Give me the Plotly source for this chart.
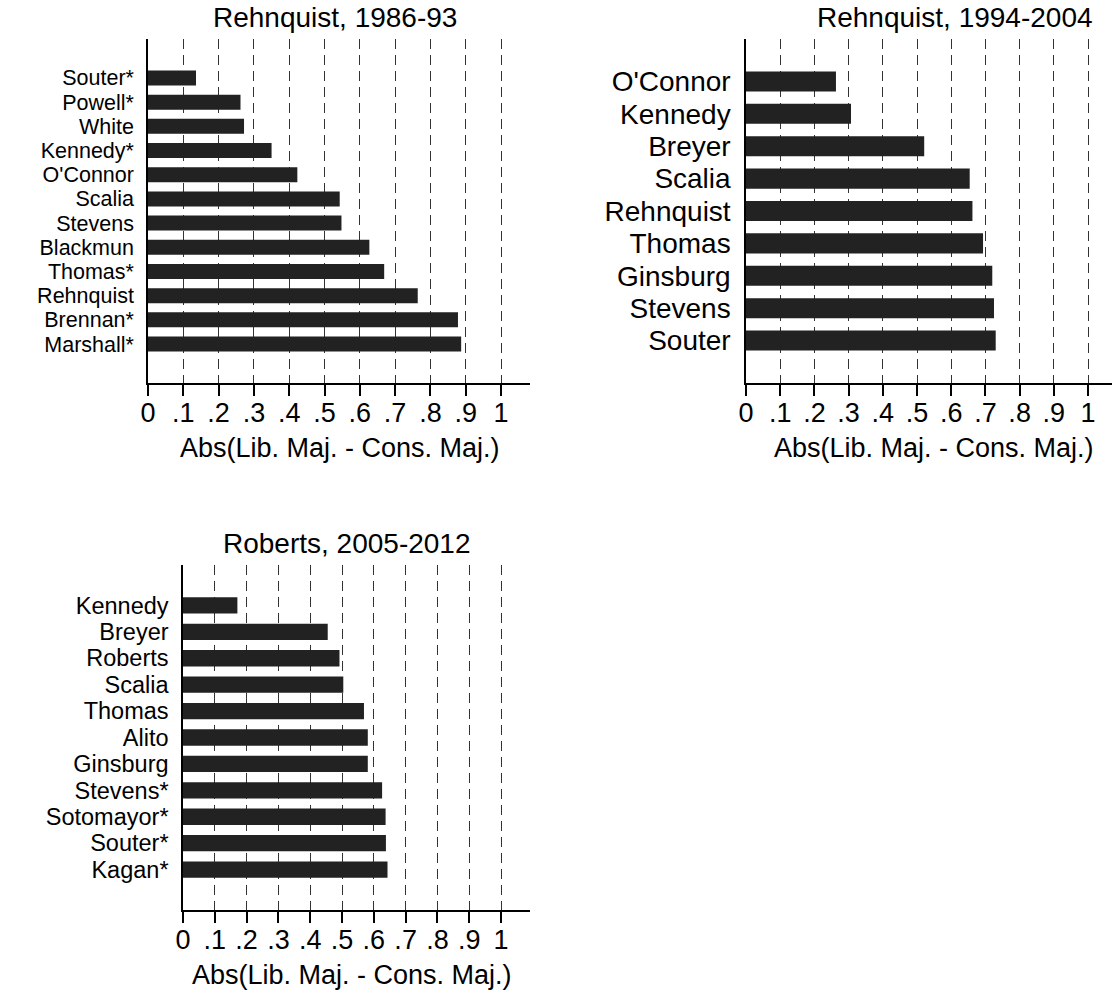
import plotly.graph_objects as go

# ---------------- data ----------------
p1_title = "Rehnquist, 1986-93"
p1_names = ["Souter*", "Powell*", "White", "Kennedy*", "O'Connor", "Scalia",
            "Stevens", "Blackmun", "Thomas*", "Rehnquist", "Brennan*", "Marshall*"]
p1_values = [0.136, 0.262, 0.272, 0.350, 0.423, 0.543,
             0.548, 0.627, 0.669, 0.764, 0.878, 0.887]

p2_title = "Rehnquist, 1994-2004"
p2_names = ["O'Connor", "Kennedy", "Breyer", "Scalia", "Rehnquist",
            "Thomas", "Ginsburg", "Stevens", "Souter"]
p2_values = [0.263, 0.307, 0.521, 0.654, 0.662, 0.693, 0.720, 0.725, 0.730]

p3_title = "Roberts, 2005-2012"
p3_names = ["Kennedy", "Breyer", "Roberts", "Scalia", "Thomas", "Alito",
            "Ginsburg", "Stevens*", "Sotomayor*", "Souter*", "Kagan*"]
p3_values = [0.171, 0.455, 0.492, 0.504, 0.569, 0.581,
             0.581, 0.626, 0.637, 0.638, 0.643]

x_tickvals = [0, 0.1, 0.2, 0.3, 0.4, 0.5, 0.6, 0.7, 0.8, 0.9, 1.0]
x_ticktext = ["0", ".1", ".2", ".3", ".4", ".5", ".6", ".7", ".8", ".9", "1"]
x_title = "Abs(Lib. Maj. - Cons. Maj.)"

# ---------------- layout geometry (pixels) ----------------
W, H = 1112, 990
FONT = "Liberation Sans, Arial, Helvetica, sans-serif"
BAR = "#222222"

panels = [
    dict(names=p1_names, values=p1_values, title=p1_title, lab=21.5,
         x0=148, x1=530, yt=39, yb=383, xmax=1.082, pad=1.61, tx=335, ty=17, atx=340),
    dict(names=p2_names, values=p2_values, title=p2_title, lab=28,
         x0=746, x1=1112, yt=39, yb=383, xmax=1.070, pad=1.31, tx=955, ty=17, atx=934),
    dict(names=p3_names, values=p3_values, title=p3_title, lab=23.5,
         x0=183, x1=530, yt=565, yb=910, xmax=1.091, pad=1.53, tx=347, ty=543, atx=352),
]

fig = go.Figure()
annotations = []

for i, p in enumerate(panels, start=1):
    xa = "x" if i == 1 else f"x{i}"
    ya = "y" if i == 1 else f"y{i}"
    fig.add_trace(go.Bar(
        x=p["values"], y=p["names"], orientation="h",
        marker=dict(color=BAR, line=dict(width=0)),
        xaxis=xa, yaxis=ya, showlegend=False, hoverinfo="x+y",
    ))
    n = len(p["names"])
    xkey = "xaxis" if i == 1 else f"xaxis{i}"
    ykey = "yaxis" if i == 1 else f"yaxis{i}"
    fig.update_layout({
        xkey: dict(
            domain=[p["x0"] / W, p["x1"] / W],
            anchor=ya,
            range=[0, p["xmax"]],
            tickmode="array", tickvals=x_tickvals, ticktext=x_ticktext,
            ticks="outside", ticklen=11, tickwidth=1.5, tickcolor="black",
            ticklabelstandoff=-6,
            showline=True, linecolor="black", linewidth=1.5,
            showgrid=True, gridcolor="#333333", gridwidth=1.1,
            griddash="10px,6px",
            zeroline=False,
            tickfont=dict(family=FONT, size=27, color="black"),
            automargin=False,
            fixedrange=True,
        ),
        ykey: dict(
            domain=[1 - p["yb"] / H, 1 - p["yt"] / H],
            anchor=xa,
            type="category",
            categoryorder="array", categoryarray=p["names"],
            tickmode="array", tickvals=p["names"], ticktext=p["names"],
            range=[n - 1 + p["pad"], -p["pad"]],
            showline=True, linecolor="black", linewidth=1.5,
            showgrid=False, zeroline=False, ticks="",
            ticklabelstandoff=8,
            tickfont=dict(family=FONT, size=p["lab"], color="black"),
            automargin=False,
            fixedrange=True,
        ),
    })
    annotations.append(dict(
        text=p["title"], xref="paper", yref="paper",
        x=p["tx"] / W, y=1 - p["ty"] / H,
        xanchor="center", yanchor="middle", showarrow=False,
        font=dict(family=FONT, size=28, color="black"),
    ))
    annotations.append(dict(
        text=x_title, xref="paper", yref="paper",
        x=p["atx"] / W, y=1 - (p["yb"] + 65) / H,
        xanchor="center", yanchor="middle", showarrow=False,
        font=dict(family=FONT, size=27, color="black"),
    ))

fig.update_layout(
    width=W, height=H,
    margin=dict(l=0, r=0, t=0, b=0),
    paper_bgcolor="white", plot_bgcolor="white",
    bargap=0.38,
    annotations=annotations,
    font=dict(family=FONT, color="black"),
)

fig.write_html("out.html",
               config={"displayModeBar": False},
               post_script="document.body.style.margin='0';document.body.style.overflow='hidden';")
